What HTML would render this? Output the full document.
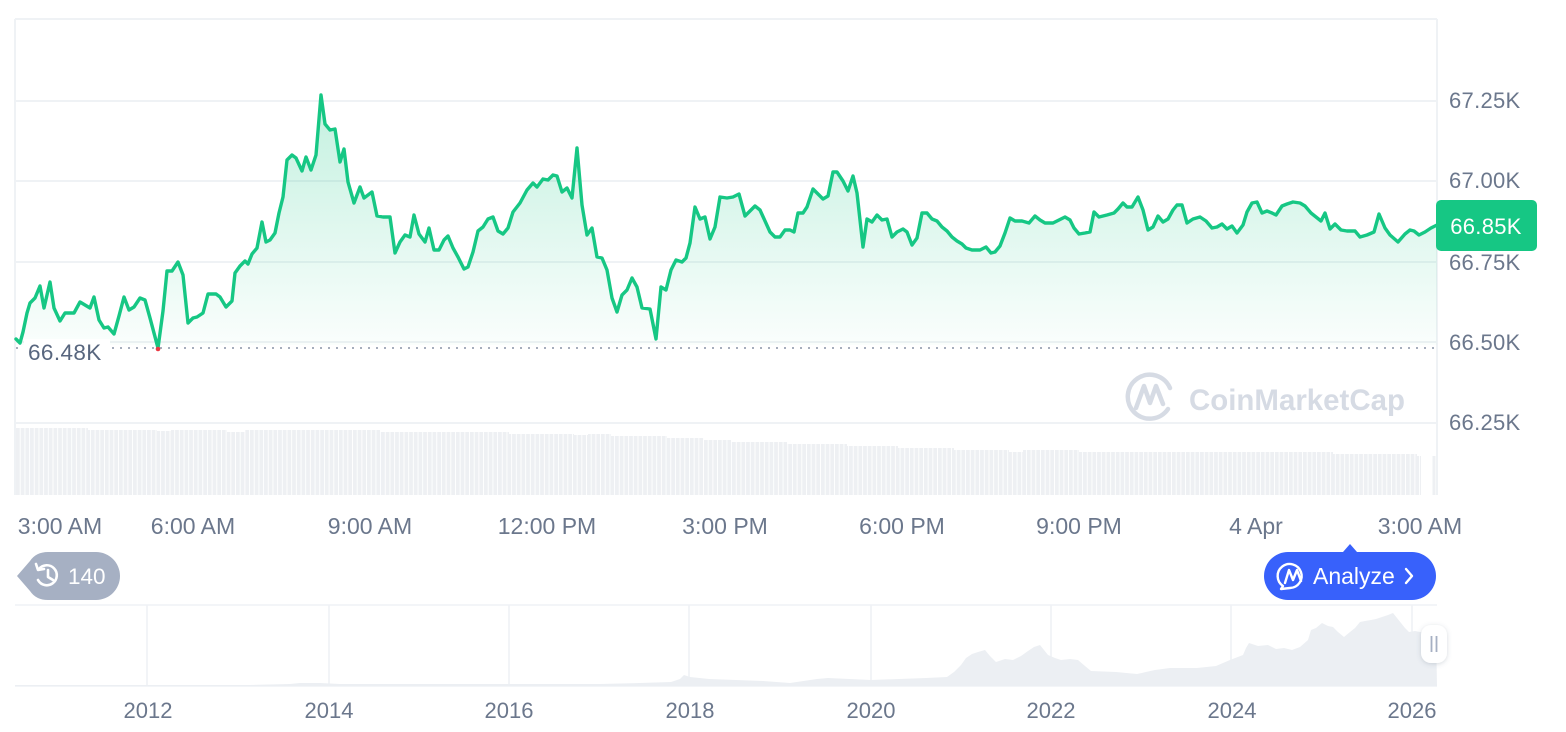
<!DOCTYPE html>
<html><head><meta charset="utf-8"><style>
html,body{margin:0;padding:0;background:#fff;}
svg{display:block;font-family:"Liberation Sans",sans-serif;}
</style></head><body>
<svg width="1566" height="732" viewBox="0 0 1566 732" xmlns="http://www.w3.org/2000/svg">
<defs>
<linearGradient id="ag" gradientUnits="userSpaceOnUse" x1="0" y1="95" x2="0" y2="345">
<stop offset="0" stop-color="#16c784" stop-opacity="0.26"/>
<stop offset="1" stop-color="#16c784" stop-opacity="0.02"/>
</linearGradient>
<pattern id="vb" patternUnits="userSpaceOnUse" x="16" y="0" width="4.68" height="10">
<rect x="0" y="0" width="3.8" height="10" fill="#eef0f3"/>
</pattern>
<filter id="sh" x="-50%" y="-50%" width="200%" height="200%">
<feDropShadow dx="0" dy="1" stdDeviation="2.5" flood-color="#58667e" flood-opacity="0.25"/>
</filter>
</defs>

<!-- grid -->
<g stroke="#eff2f5" stroke-width="2" fill="none">
<line x1="15" y1="19" x2="1437" y2="19"/>
<line x1="15" y1="19" x2="15" y2="495"/>
<line x1="1437" y1="19" x2="1437" y2="495"/>
<line x1="15" y1="101" x2="1437" y2="101"/>
<line x1="15" y1="181" x2="1437" y2="181"/>
<line x1="15" y1="262" x2="1437" y2="262"/>
<line x1="15" y1="342" x2="1437" y2="342"/>
<line x1="15" y1="423" x2="1437" y2="423"/>
</g>

<!-- volume bars -->
<path d="M16,495 V428 H88 V430 H157 V431 H171 V430 H227 V432 H245 V430 H380 V432 H509 V434 H574 V435 H588 V434 H611 V436 H667 V438 H704 V440 H731 V442 H787 V444 H847 V446 H898 V448 H954 V450 H1009 V452 H1023 V450 H1079 V452 H1333 V454 H1417 V456 H1421 V495 Z" fill="url(#vb)"/>
<rect x="1432.5" y="456" width="3" height="39" fill="#eef0f3"/>

<!-- watermark -->
<g fill="none" stroke="#d6dbe4" stroke-width="4.5" stroke-linecap="round" stroke-linejoin="round">
<path d="M1168,409 A22,22 0 1 1 1170,388"/>
<path d="M1136,408 L1144,386 L1150,403 L1156,386 L1163,404"/>
</g>
<text x="1189" y="410" font-size="30" font-weight="700" fill="#d6dbe4" textLength="216" lengthAdjust="spacingAndGlyphs">CoinMarketCap</text>

<!-- dotted min line -->
<line x1="16" y1="348" x2="1437" y2="348" stroke="#9aa3b2" stroke-width="1.8" stroke-dasharray="2 6"/>

<!-- area + line -->
<polygon fill="url(#ag)" points="16,345 16,339 20,343 23,332 27,313 30,303 35,298 40,286 44,308 50,282 54,308 60,321 65,313 74,313 80,302 90,308 94,297 99,320 104,328 108,327 114,334 119,316 124,297 129,310 134,307 140,298 145,300 150,318 158,348 163,311 167,271 172,271 178,262 183,275 188,323 193,318 197,317 203,313 208,294 216,294 220,297 226,307 232,301 235,273 240,266 245,261 248,264 252,254 257,248 262,222 266,242 270,240 275,233 279,213 283,197 287,160 292,155 296,158 302,171 306,157 311,170 316,155 321,95 325,124 330,130 335,129 340,162 344,149 348,182 354,203 360,187 364,198 372,192 377,216 383,217 390,217 395,253 400,242 405,235 410,237 414,215 419,234 425,242 429,228 434,250 439,250 444,240 448,236 453,248 458,257 464,269 468,267 473,252 478,231 483,227 488,219 493,217 498,231 503,234 508,228 513,212 520,203 527,190 533,183 537,187 543,179 548,180 553,175 557,176 562,192 567,188 572,198 577,148 582,205 587,235 592,228 597,257 602,258 607,270 612,298 617,312 622,295 627,290 632,278 637,287 642,308 650,309 656,339 661,287 666,290 671,270 676,260 682,262 686,258 690,243 695,207 700,219 705,217 710,239 715,227 720,197 727,198 733,197 739,194 745,216 755,206 760,210 770,232 775,237 780,237 785,230 790,230 794,232 798,213 803,213 807,207 813,189 817,193 823,199 828,196 833,172 837,172 843,181 848,191 853,176 857,193 863,247 867,219 872,222 877,215 882,220 887,219 892,237 897,232 903,229 907,232 912,245 917,238 922,213 927,213 932,219 937,221 942,227 947,231 952,237 957,241 962,244 966,248 972,250 980,250 986,247 991,253 995,252 1000,246 1005,233 1010,218 1015,221 1022,221 1029,223 1035,216 1040,220 1045,223 1053,223 1059,220 1065,217 1070,220 1074,228 1079,234 1085,233 1090,232 1094,212 1099,217 1107,215 1114,213 1118,209 1123,203 1127,207 1132,207 1138,197 1143,210 1148,230 1153,227 1158,216 1163,222 1168,219 1173,210 1177,205 1182,205 1187,223 1193,219 1200,217 1206,221 1212,228 1217,227 1222,224 1227,229 1232,226 1237,233 1243,225 1247,212 1252,203 1257,202 1262,213 1267,211 1272,213 1276,215 1282,206 1287,204 1293,202 1300,203 1305,206 1311,213 1316,217 1321,221 1325,213 1330,229 1335,224 1341,230 1347,231 1355,231 1360,237 1367,235 1374,232 1379,214 1385,228 1390,235 1398,242 1405,234 1410,230 1414,231 1419,235 1425,232 1431,228 1437,225 1437,345"/>
<polyline fill="none" stroke="#16c784" stroke-width="3.4" stroke-linejoin="round" stroke-linecap="round" points="16,339 20,343 23,332 27,313 30,303 35,298 40,286 44,308 50,282 54,308 60,321 65,313 74,313 80,302 90,308 94,297 99,320 104,328 108,327 114,334 119,316 124,297 129,310 134,307 140,298 145,300 150,318 158,348 163,311 167,271 172,271 178,262 183,275 188,323 193,318 197,317 203,313 208,294 216,294 220,297 226,307 232,301 235,273 240,266 245,261 248,264 252,254 257,248 262,222 266,242 270,240 275,233 279,213 283,197 287,160 292,155 296,158 302,171 306,157 311,170 316,155 321,95 325,124 330,130 335,129 340,162 344,149 348,182 354,203 360,187 364,198 372,192 377,216 383,217 390,217 395,253 400,242 405,235 410,237 414,215 419,234 425,242 429,228 434,250 439,250 444,240 448,236 453,248 458,257 464,269 468,267 473,252 478,231 483,227 488,219 493,217 498,231 503,234 508,228 513,212 520,203 527,190 533,183 537,187 543,179 548,180 553,175 557,176 562,192 567,188 572,198 577,148 582,205 587,235 592,228 597,257 602,258 607,270 612,298 617,312 622,295 627,290 632,278 637,287 642,308 650,309 656,339 661,287 666,290 671,270 676,260 682,262 686,258 690,243 695,207 700,219 705,217 710,239 715,227 720,197 727,198 733,197 739,194 745,216 755,206 760,210 770,232 775,237 780,237 785,230 790,230 794,232 798,213 803,213 807,207 813,189 817,193 823,199 828,196 833,172 837,172 843,181 848,191 853,176 857,193 863,247 867,219 872,222 877,215 882,220 887,219 892,237 897,232 903,229 907,232 912,245 917,238 922,213 927,213 932,219 937,221 942,227 947,231 952,237 957,241 962,244 966,248 972,250 980,250 986,247 991,253 995,252 1000,246 1005,233 1010,218 1015,221 1022,221 1029,223 1035,216 1040,220 1045,223 1053,223 1059,220 1065,217 1070,220 1074,228 1079,234 1085,233 1090,232 1094,212 1099,217 1107,215 1114,213 1118,209 1123,203 1127,207 1132,207 1138,197 1143,210 1148,230 1153,227 1158,216 1163,222 1168,219 1173,210 1177,205 1182,205 1187,223 1193,219 1200,217 1206,221 1212,228 1217,227 1222,224 1227,229 1232,226 1237,233 1243,225 1247,212 1252,203 1257,202 1262,213 1267,211 1272,213 1276,215 1282,206 1287,204 1293,202 1300,203 1305,206 1311,213 1316,217 1321,221 1325,213 1330,229 1335,224 1341,230 1347,231 1355,231 1360,237 1367,235 1374,232 1379,214 1385,228 1390,235 1398,242 1405,234 1410,230 1414,231 1419,235 1425,232 1431,228 1437,225"/>

<!-- min label -->
<rect x="24" y="339" width="86" height="24" fill="#fff"/>
<text x="28" y="360" font-size="22.5" fill="#58667e" letter-spacing="0.4">66.48K</text>
<circle cx="158" cy="349" r="2.3" fill="#ea3943"/>

<!-- y axis labels -->
<g font-size="22" fill="#6b778c" letter-spacing="0.3">
<text x="1449" y="108">67.25K</text>
<text x="1449" y="188">67.00K</text>
<text x="1449" y="270">66.75K</text>
<text x="1449" y="350">66.50K</text>
<text x="1449" y="430">66.25K</text>
</g>
<rect x="1436" y="200" width="101" height="51" rx="5" fill="#16c784"/>
<text x="1486" y="234" font-size="22" fill="#fff" text-anchor="middle" letter-spacing="0.3">66.85K</text>

<!-- x axis labels -->
<g font-size="23" fill="#6b778c" text-anchor="middle">
<text x="60" y="534">3:00 AM</text>
<text x="193" y="534">6:00 AM</text>
<text x="370" y="534">9:00 AM</text>
<text x="547" y="534">12:00 PM</text>
<text x="725" y="534">3:00 PM</text>
<text x="902" y="534">6:00 PM</text>
<text x="1079" y="534">9:00 PM</text>
<text x="1256" y="534">4 Apr</text>
<text x="1420" y="534">3:00 AM</text>
</g>

<!-- 140 badge -->
<path d="M17,576 L30,561 Q36,552 48,552 H96 A24,24 0 0 1 96,600 H48 Q36,600 30,591 Z" fill="#a6b0c3"/>
<g fill="none" stroke="#fff" stroke-width="2.6" stroke-linecap="round" stroke-linejoin="round">
<path d="M39,569 A10,10 0 1 1 38,580"/>
<path d="M36,564 L38,570 L44,569"/>
<path d="M48,570 V577 L53,580"/>
</g>
<text x="68" y="584" font-size="22.5" fill="#fff">140</text>

<!-- analyze button -->
<path d="M1343,552 L1350,544 L1357,552 Z" fill="#3861fb"/>
<rect x="1264" y="552" width="172" height="48" rx="24" fill="#3861fb"/>
<g fill="none" stroke="#fff" stroke-width="2.4" stroke-linecap="round" stroke-linejoin="round">
<path d="M1283,586 A12,12 0 1 1 1290,588 L1281,589 Z"/>
<path d="M1285,583 L1289,570 L1293,580 L1297,570 L1301,581"/>
<path d="M1406,569 L1412,576 L1406,583"/>
</g>
<text x="1313" y="584" font-size="23" fill="#fff">Analyze</text>

<!-- navigator -->
<g stroke="#eff2f5" stroke-width="1.6">
<line x1="15" y1="605" x2="1437" y2="605"/>
<line x1="15" y1="686" x2="1437" y2="686"/>
<line x1="147" y1="605" x2="147" y2="686"/>
<line x1="329" y1="605" x2="329" y2="686"/>
<line x1="509" y1="605" x2="509" y2="686"/>
<line x1="689" y1="605" x2="689" y2="686"/>
<line x1="871" y1="605" x2="871" y2="686"/>
<line x1="1051" y1="605" x2="1051" y2="686"/>
<line x1="1231" y1="605" x2="1231" y2="686"/>
<line x1="1412" y1="605" x2="1412" y2="686"/>
</g>
<polygon fill="#eceff3" points="15,686 15,685 250,685 290,684 300,683 320,683 340,684 500,684 600,684 640,683 671,682 680,679 684,675 690,677 709,679 763,681 790,683 817,679 828,678 871,680 926,678 947,677 954,672 961,665 966,658 972,654 978,652 985,650 990,656 996,662 1005,659 1013,660 1021,656 1028,651 1034,647 1040,645 1044,650 1048,655 1055,658 1061,660 1070,659 1078,660 1085,666 1091,671 1116,672 1137,674 1155,670 1170,668 1197,668 1216,666 1230,660 1243,655 1246,648 1249,643 1258,646 1268,645 1276,649 1284,648 1292,650 1300,647 1308,640 1311,630 1316,628 1322,623 1328,626 1333,627 1338,632 1344,637 1350,632 1355,628 1360,622 1365,621 1371,620 1376,619 1382,617 1388,615 1393,613 1397,618 1401,623 1405,628 1409,632 1415,631 1420,632 1428,631 1436,630 1437,686"/>
<g font-size="22" fill="#6b778c" text-anchor="middle">
<text x="148" y="718">2012</text>
<text x="329" y="718">2014</text>
<text x="509" y="718">2016</text>
<text x="690" y="718">2018</text>
<text x="871" y="718">2020</text>
<text x="1051" y="718">2022</text>
<text x="1232" y="718">2024</text>
<text x="1412" y="718">2026</text>
</g>
<rect x="1421" y="625" width="26" height="38" rx="10" fill="#fff" filter="url(#sh)"/>
<line x1="1431.5" y1="636" x2="1431.5" y2="652" stroke="#a6b0c3" stroke-width="1.8"/>
<line x1="1436.5" y1="636" x2="1436.5" y2="652" stroke="#a6b0c3" stroke-width="1.8"/>
</svg>
</body></html>
